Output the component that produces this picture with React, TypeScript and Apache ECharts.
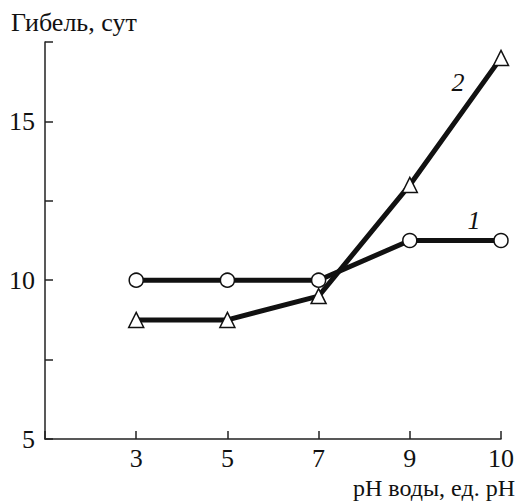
import React, { useEffect, useRef } from "react";
import * as echarts from "echarts";

const categories = ["3", "5", "7", "9", "10"];
const series1 = [10, 10, 10, 11.25, 11.25];
const series2 = [8.75, 8.75, 9.5, 13, 17];
const seriesNames = ["1", "2"];
const yTickLabels = [5, 10, 15];

const FONT = "'Liberation Serif', 'Times New Roman', serif";
const FS = 26;

export default function App() {
  const ref = useRef<HTMLDivElement>(null);
  useEffect(() => {
    if (!ref.current) return;
    const chart = echarts.init(ref.current, undefined, { renderer: "svg" });
    const toData = (arr: number[]) => arr.map((v, i) => [i + 1, v]);
    const lastLabel = (arr: number[], name: string, offset: number[]) =>
      toData(arr).map((p, i) =>
        i === arr.length - 1
          ? {
              value: p,
              label: {
                show: true,
                formatter: name,
                position: "inside",
                offset,
                fontFamily: FONT,
                fontStyle: "italic",
                fontSize: FS,
                color: "#111",
              },
            }
          : { value: p }
      );
    chart.setOption({
      animation: false,
      grid: { left: 45, right: 14, top: 42, bottom: 62, containLabel: false },
      xAxis: {
        type: "value",
        min: 0,
        max: categories.length,
        interval: 1,
        axisLine: { show: true, lineStyle: { color: "#222", width: 1.5 } },
        axisTick: { show: true, inside: true, length: 8, lineStyle: { color: "#222", width: 1.5 } },
        axisLabel: {
          formatter: (v: number) => (v >= 1 ? categories[v - 1] ?? "" : ""),
          fontFamily: FONT,
          fontSize: FS,
          lineHeight: 22,
          color: "#111",
          margin: 8,
          showMinLabel: true,
          showMaxLabel: true,
        },
        splitLine: { show: false },
      },
      yAxis: {
        type: "value",
        min: 5,
        max: 17.5,
        interval: 2.5,
        axisLine: { show: true, lineStyle: { color: "#222", width: 1.5 } },
        axisTick: { show: true, inside: true, length: 8, lineStyle: { color: "#222", width: 1.5 } },
        axisLabel: {
          formatter: (v: number) => (yTickLabels.includes(v) ? String(v) : ""),
          fontFamily: FONT,
          fontSize: FS,
          color: "#111",
          margin: 10,
        },
        splitLine: { show: false },
      },
      graphic: [
        {
          type: "text",
          left: 11,
          top: 9,
          style: { text: "Гибель, сут", font: `${FS}px ${FONT}`, fill: "#111" },
        },
        {
          type: "text",
          right: 2,
          top: 476,
          style: { text: "pH воды, ед. pH", font: `24px ${FONT}`, lineHeight: 22, fill: "#111" },
        },
      ],
      series: [
        {
          name: seriesNames[0],
          type: "line",
          data: lastLabel(series1, seriesNames[0], [-27, -20]),
          symbol: "circle",
          symbolSize: 14,
          lineStyle: { color: "#111", width: 5 },
          itemStyle: { color: "#fff", borderColor: "#111", borderWidth: 1.5 },
          z: 3,
        },
        {
          name: seriesNames[1],
          type: "line",
          data: lastLabel(series2, seriesNames[1], [-43, 25]),
          symbol: "triangle",
          symbolSize: 15,
          lineStyle: { color: "#111", width: 5 },
          itemStyle: { color: "#fff", borderColor: "#111", borderWidth: 1.5 },
          z: 2,
        },
      ],
    });
    return () => chart.dispose();
  }, []);
  return <div ref={ref} style={{ width: 517, height: 501, position: "absolute", left: 0, top: 0 }} />;
}
